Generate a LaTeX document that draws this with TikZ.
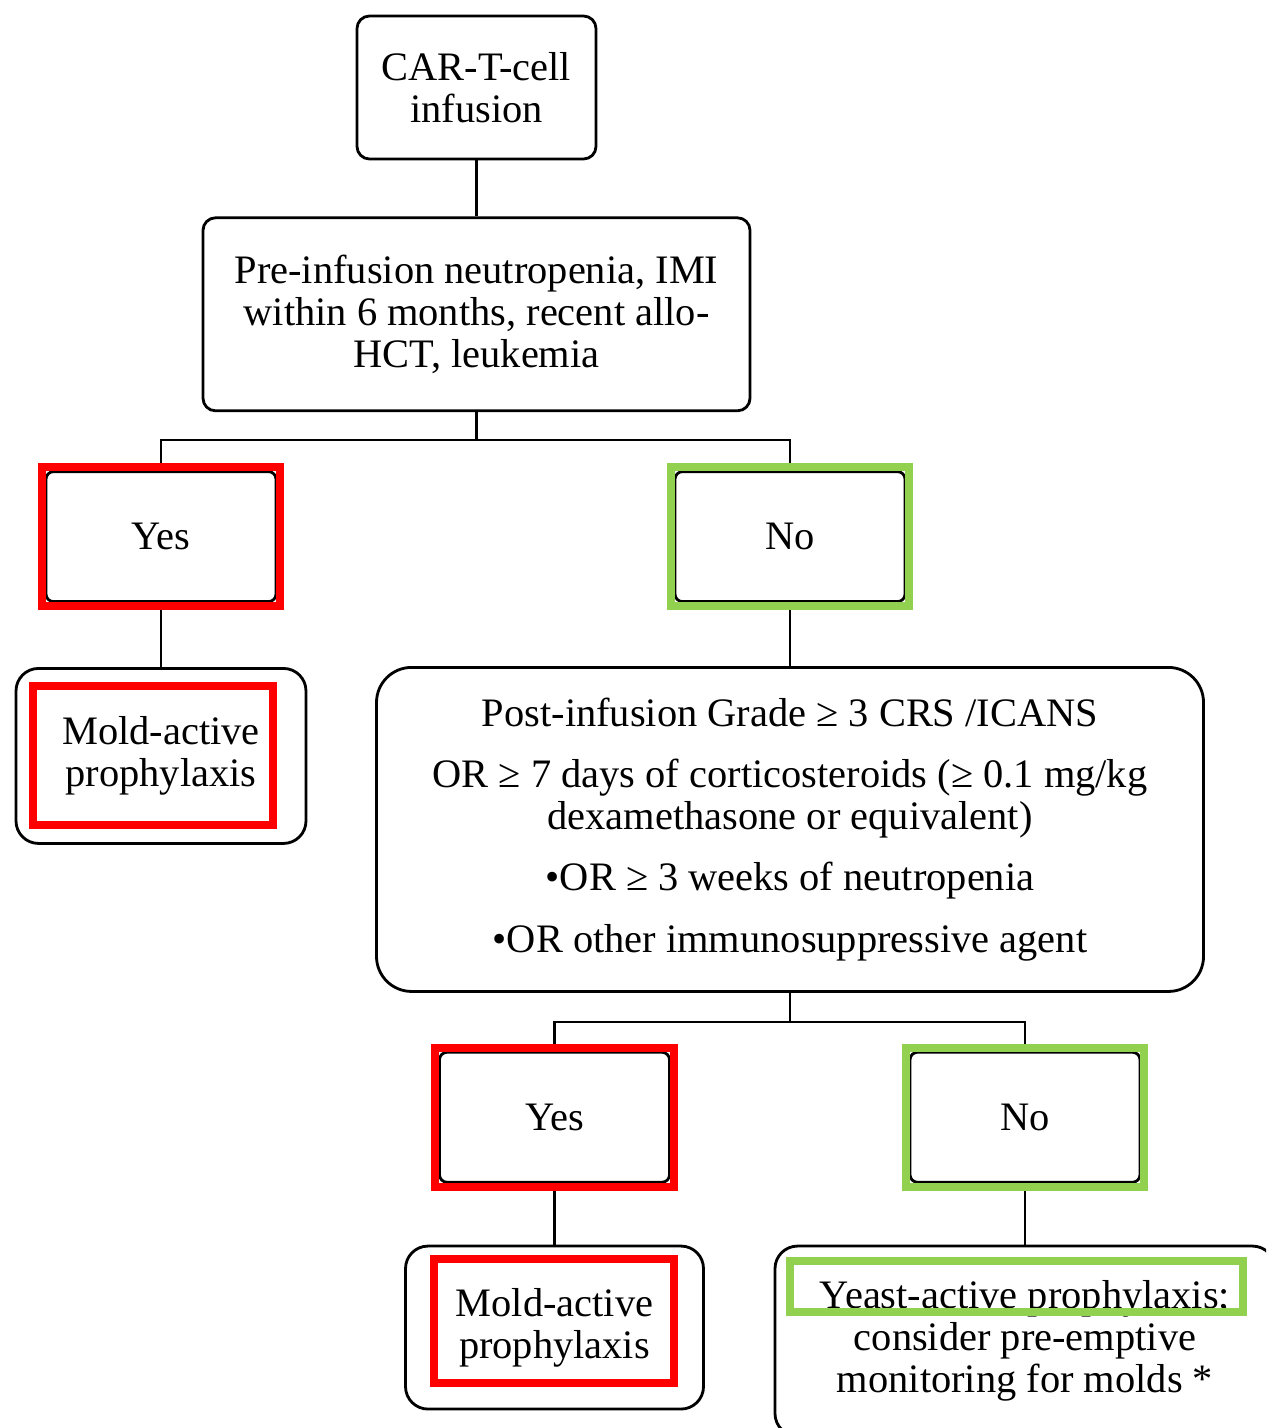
\documentclass[tikz,border=0pt]{standalone}
\usepackage{fontspec}
\setmainfont{Liberation Serif}
\usetikzlibrary{positioning, fit, calc}
\definecolor{markred}{RGB}{255,0,0}
\definecolor{markgreen}{RGB}{146,208,80}
\tikzstyle{box} = [rectangle, rounded corners=0.25cm, text centered, align=center, draw=black, line width=1.6pt, font=\fontsize{23}{24}\selectfont]
\tikzstyle{answer} = [box, rounded corners=0.15cm, minimum width=4.6cm, minimum height=2.6cm]
\tikzstyle{outcome} = [box, rounded corners=0.45cm]
\tikzstyle{redmark} = [rectangle, draw=markred, line width=0.16cm, inner sep=0.06cm]
\tikzstyle{greenmark} = [rectangle, draw=markgreen, line width=0.16cm, inner sep=0.06cm]
\tikzstyle{line} = [line width=1.4pt]

\begin{document}
\begin{tikzpicture}
			\clip (0,0) rectangle (25.32,-28.56);
			\node (car) [box, minimum width=4.78cm, minimum height=2.86cm] at (9.53,-1.75) {CAR-T-cell\\infusion};
			\node (pre) [box, below=1.12cm of car, minimum width=10.94cm, minimum height=3.86cm] {Pre-infusion neutropenia, IMI\\within 6 months, recent allo-\\HCT, leukemia};

			\node (yes1) [answer, below=1.16cm of pre.south, xshift=-6.31cm] {Yes};
			\node (no1) [answer, below=1.16cm of pre.south, xshift=6.27cm] {No};
			\node (mold1) [outcome, below=1.28cm of yes1, minimum width=5.8cm, minimum height=3.5cm] {Mold-active\\prophylaxis};

			\node (crit) [box, rounded corners=0.7cm, below=1.26cm of no1, minimum width=16.54cm, minimum height=6.48cm] {Post-infusion Grade ≥ 3 CRS /ICANS\\[0.38cm]
				OR ≥ 7 days of corticosteroids (≥ 0.1 mg/kg\\dexamethasone or equivalent)\\[0.38cm]
				•OR ≥ 3 weeks of neutropenia\\[0.38cm]
				•OR other immunosuppressive agent};

			\node (yes2) [answer, below=1.16cm of crit.south, xshift=-4.71cm] {Yes};
			\node (no2) [answer, below=1.16cm of crit.south, xshift=4.70cm] {No};
			\node (mold2) [outcome, below=1.22cm of yes2, minimum width=5.96cm, minimum height=3.26cm] {Mold-active\\prophylaxis};
			\node (yeast) [outcome, below=1.22cm of no2, minimum width=10cm, minimum height=3.8cm] {Yeast-active prophylaxis;\\consider pre-emptive\\monitoring for molds *};

			\coordinate (split1) at ($(pre.south)+(0,-0.56)$);
			\coordinate (split2) at ($(crit.south)+(0,-0.58)$);
			\draw [line] (car) -- (pre);
			\draw [line] (pre) -- (split1);
			\draw [line] (yes1) |- (split1) -| (no1);
			\draw [line] (yes1) -- (mold1);
			\draw [line] (no1) -- (crit);
			\draw [line] (crit) -- (split2);
			\draw [line] (yes2) |- (split2) -| (no2);
			\draw [line] (yes2) -- (mold2);
			\draw [line] (no2) -- (yeast);

			% highlight frames
			\node (yes1mark) [redmark, fit=(yes1)] {};
			\node (no1mark) [greenmark, fit=(no1)] {};
			\node (yes2mark) [redmark, fit=(yes2)] {};
			\node (no2mark) [greenmark, fit=(no2)] {};
			\node (mold1mark) [redmark, inner sep=0pt, minimum width=4.8cm, minimum height=2.78cm] at ($(mold1.center)+(-0.16,0)$) {};
			\node (mold2mark) [redmark, inner sep=0pt, minimum width=4.8cm, minimum height=2.48cm] at ($(mold2.center)+(-0.02,0.13)$) {};
			\node (yeastmark) [greenmark, inner sep=0pt, minimum width=9.06cm, minimum height=1.02cm] at ($(yeast.center)+(-0.17,1.1)$) {};
		\end{tikzpicture}
\end{document}
